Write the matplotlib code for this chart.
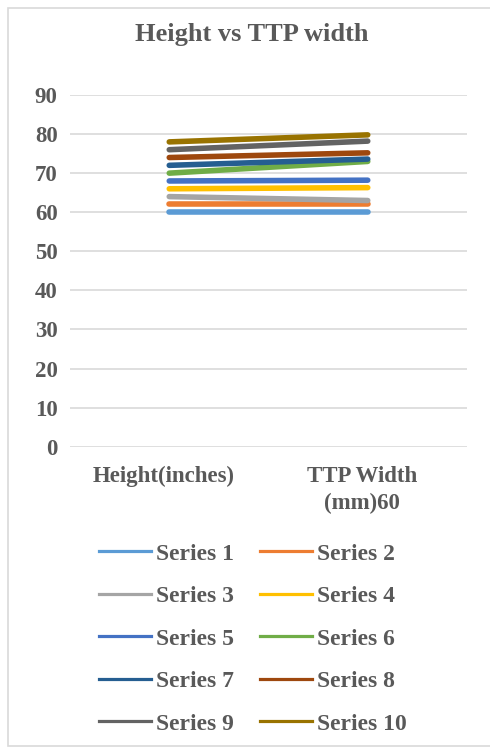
import matplotlib
matplotlib.use("Agg")
import matplotlib.pyplot as plt
import matplotlib.transforms as mtransforms
from matplotlib.patches import Rectangle
from matplotlib.lines import Line2D

plt.rcParams['font.family'] = ['Liberation Serif', 'DejaVu Serif']

categories = ["Height(inches)", "TTP Width\n(mm)60"]
series_names = ["Series 1", "Series 2", "Series 3", "Series 4", "Series 5",
                "Series 6", "Series 7", "Series 8", "Series 9", "Series 10"]
series_values = [
    [60, 60],
    [62, 62],
    [64, 63],
    [66, 66.3],
    [68, 68.2],
    [70, 73],
    [72, 73.6],
    [74, 75.2],
    [76, 78.2],
    [78, 79.8],
]
colors = ["#5B9BD5", "#ED7D31", "#A5A5A5", "#FFC000", "#4472C4",
          "#70AD47", "#255E91", "#9E480E", "#636363", "#997300"]
yticks = [0, 10, 20, 30, 40, 50, 60, 70, 80, 90]

TXT = "#595959"
W, H = 490, 751
fig = plt.figure(figsize=(W / 100, H / 100), dpi=100)

# chart area border
border = Rectangle((8 / W, 1 - 746 / H), (W + 5 - 8) / W, (746 - 8) / H,
                   transform=fig.transFigure, facecolor="white",
                   edgecolor="#d9d9d9", linewidth=1.2, zorder=-10)
fig.add_artist(border)

ax = fig.add_axes([70 / W, 1 - 446.7 / H, (467 - 70) / W, (446.7 - 95) / H])
ax.set_facecolor("none")
x = list(range(len(categories)))
for name, vals, c in zip(series_names, series_values, colors):
    ax.plot(x, vals, color=c, linewidth=4, solid_capstyle="round", label=name,
            clip_on=False, zorder=3)

ax.set_xlim(-0.5, len(categories) - 0.5)
ax.set_ylim(0, 90)
ax.set_yticks(yticks)
ax.set_yticklabels([str(v) for v in yticks])
ax.set_xticks(x)
ax.set_xticklabels(categories, linespacing=1.38)
ax.grid(axis="y", color="#d9d9d9", linewidth=1.2, zorder=0)
for s in ax.spines.values():
    s.set_visible(False)
ax.tick_params(axis="both", length=0, colors=TXT, labelsize=16.5)
ax.tick_params(axis="y", pad=9)
ax.tick_params(axis="x", pad=14)
shift = mtransforms.ScaledTranslation(-6 / 100, 0, fig.dpi_scale_trans)
for lab in ax.get_xticklabels():
    lab.set_transform(lab.get_transform() + shift)
for lab in ax.get_xticklabels() + ax.get_yticklabels():
    lab.set_fontweight("bold")
    lab.set_color(TXT)

fig.text(252 / W, 1 - 35 / H, "Height vs TTP width", ha="center", va="center",
         fontsize=19, fontweight="bold", color=TXT)

handles = [Line2D([0], [0], color=c, linewidth=2.3) for c in colors]
order = list(range(0, 10, 2)) + list(range(1, 10, 2))
leg = fig.legend([handles[i] for i in order], [series_names[i] for i in order],
                 loc="upper left", ncol=2,
                 bbox_to_anchor=(99 / W, 1 - 543 / H), frameon=False,
                 borderpad=0, borderaxespad=0, handlelength=2.2,
                 handletextpad=0.22, columnspacing=1.1, labelspacing=0.89,
                 prop={"size": 17, "weight": "bold"})
for t in leg.get_texts():
    t.set_color(TXT)

fig.savefig("out.png", dpi=100, facecolor="white")
